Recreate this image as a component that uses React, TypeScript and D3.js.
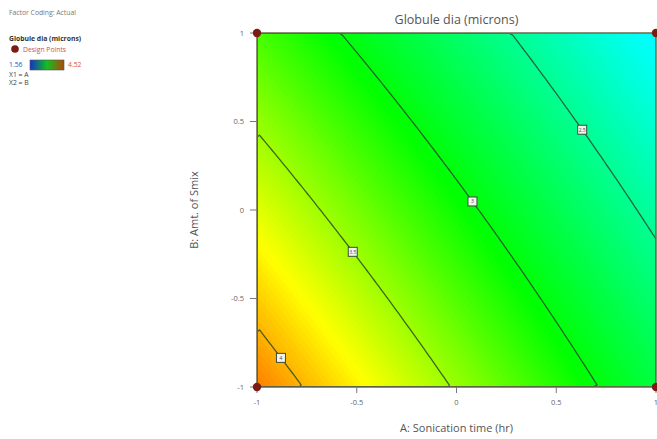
import * as d3 from 'd3';

const W = 657;
const H = 439;
const PLOT = { left: 257, right: 656, top: 33, bottom: 387 };
const FONT = '"Open Sans", "Noto Sans", sans-serif';

// fitted response surface: Globule dia = b0 + b1*A + b2*B + b12*A*B
const coefTerms = ['Intercept', 'A', 'B', 'AB'];
const coefValues = [3.07, -0.63, -0.41, 0.045];

const responseMin = 1.56;
const responseMax = 4.52;
const contourLevels = [2.5, 3, 3.5, 4];
const labelAtA = [0.63, 0.08, -0.52, -0.88];
const xTicks = [-1, -0.5, 0, 0.5, 1];
const yTicks = [-1, -0.5, 0, 0.5, 1];
const designPoints = [
  { a: -1, b: -1 },
  { a: 1, b: -1 },
  { a: -1, b: 1 },
  { a: 1, b: 1 },
];
const colorStops = [responseMin, 2.1, 3.04, 3.78, responseMax];
const colorRange = ['#0000ff', '#00ffff', '#00ff00', '#ffff00', '#ff0000'];
const legendStops = ['#1430c8', '#12c020', '#b04808'];

const coef = (t: string) => coefValues[coefTerms.indexOf(t)];
const model = (a: number, b: number) =>
  coef('Intercept') + coef('A') * a + coef('B') * b + coef('AB') * a * b;
// B on a contour for given A
const bOnLevel = (level: number, a: number) =>
  (level - coef('Intercept') - coef('A') * a) / (coef('B') + coef('AB') * a);

const N = 80;

export default function App() {
  const x = d3.scaleLinear().domain([-1, 1]).range([PLOT.left, PLOT.right]);
  const y = d3.scaleLinear().domain([-1, 1]).range([PLOT.bottom, PLOT.top]);
  const color = d3.scaleLinear<string>().domain(colorStops).range(colorRange).clamp(true);

  const grid: number[] = [];
  for (let j = 0; j < N; j++) {
    const b = 1 - (2 * (j + 0.5)) / N;
    for (let i = 0; i < N; i++) {
      const a = -1 + (2 * (i + 0.5)) / N;
      grid.push(model(a, b));
    }
  }

  const proj = d3.geoTransform({
    point(px: number, py: number) {
      this.stream.point(x(-1 + (2 * px) / N), y(1 - (2 * py) / N));
    },
  });
  const path = d3.geoPath(proj);

  const bandThresholds = d3.range(1.5, 4.6, 0.02);
  const bands = d3.contours().size([N, N]).thresholds(bandThresholds)(grid);
  const lines = d3.contours().size([N, N]).thresholds(contourLevels)(grid);

  const plotW = PLOT.right - PLOT.left;
  const plotH = PLOT.bottom - PLOT.top;
  const midX = (PLOT.left + PLOT.right) / 2;
  const midY = (PLOT.top + PLOT.bottom) / 2;

  return (
    <div style={{ position: 'absolute', left: 0, top: 0 }}>
      <svg width={W} height={H} style={{ display: 'block', background: '#fff' }} fontFamily={FONT}>
        <defs>
          <clipPath id="plot-clip">
            <rect x={PLOT.left} y={PLOT.top} width={plotW} height={plotH} />
          </clipPath>
          <linearGradient id="legend-grad" x1="0" x2="1" y1="0" y2="0">
            {legendStops.map((c, i) => (
              <stop key={i} offset={i / (legendStops.length - 1)} stopColor={c} />
            ))}
          </linearGradient>
        </defs>

        {/* legend block */}
        <g fontSize={6.8}>
          <text x={9} y={15} fill="#777">Factor Coding: Actual</text>
          <text x={9} y={41} fill="#333" fontWeight="bold">Globule dia (microns)</text>
          <circle cx={15} cy={49} r={3.8} fill="#7b1b14" />
          <text x={23} y={51.5} fill="#c85050">Design Points</text>
          <text x={9} y={67} fill="#3050c0">{responseMin.toFixed(2)}</text>
          <rect x={30} y={60} width={34} height={10} fill="url(#legend-grad)" stroke="#555" strokeWidth={0.6} />
          <text x={68} y={67} fill="#d05050">{responseMax.toFixed(2)}</text>
          <text x={9} y={77} fill="#444">X1 = A</text>
          <text x={9} y={85} fill="#444">X2 = B</text>
        </g>

        <text x={midX} y={24} textAnchor="middle" fontSize={12.5} fill="#555">
          Globule dia (microns)
        </text>

        {/* surface */}
        <g clipPath="url(#plot-clip)">
          {bands.map((c, i) => (
            <path key={i} d={path(c as any) || ''} fill={color(c.value + 0.01)} />
          ))}
          {lines.map((c, i) => (
            <path key={i} d={path(c as any) || ''} fill="none" stroke="#2c4a2c" strokeOpacity={0.85} strokeWidth={1.3} />
          ))}
        </g>
        <rect x={PLOT.left} y={PLOT.top} width={plotW} height={plotH} fill="none" stroke="#6a6a50" strokeWidth={1.5} />

        {/* contour labels */}
        {contourLevels.map((lv, i) => {
          const a = labelAtA[i];
          const cx = x(a);
          const cy = y(bOnLevel(lv, a));
          return (
            <g key={lv}>
              <rect x={cx - 4.5} y={cy - 4.5} width={9} height={9} fill="#f4f4ee" stroke="#3a4a3a" strokeWidth={1} />
              <text x={cx} y={cy + 2} textAnchor="middle" fontSize={5} fill="#444">{lv}</text>
            </g>
          );
        })}

        {/* x axis */}
        <g fontSize={7.5} fill="#666">
          {xTicks.map(t => (
            <g key={t}>
              <line x1={x(t)} x2={x(t)} y1={PLOT.bottom} y2={PLOT.bottom + 6} stroke="#777" strokeWidth={1} />
              <text x={x(t)} y={PLOT.bottom + 18} textAnchor="middle">{t}</text>
            </g>
          ))}
        </g>
        <text x={midX} y={432} textAnchor="middle" fontSize={11} fill="#555">
          A: Sonication time (hr)
        </text>

        {/* y axis */}
        <g fontSize={7.5} fill="#666">
          {yTicks.map(t => (
            <g key={t}>
              <line x1={PLOT.left - 7} x2={PLOT.left} y1={y(t)} y2={y(t)} stroke="#777" strokeWidth={1} />
              <text x={PLOT.left - 13} y={y(t) + 2.5} textAnchor="end">{t}</text>
            </g>
          ))}
        </g>
        <text
          transform={`translate(198,${midY}) rotate(-90)`}
          textAnchor="middle"
          fontSize={11}
          fill="#555"
        >
          B: Amt. of Smix
        </text>

        {/* design points */}
        {designPoints.map((p, i) => (
          <circle key={i} cx={x(p.a)} cy={y(p.b)} r={4.2} fill="#7b1b14" />
        ))}
      </svg>
    </div>
  );
}
